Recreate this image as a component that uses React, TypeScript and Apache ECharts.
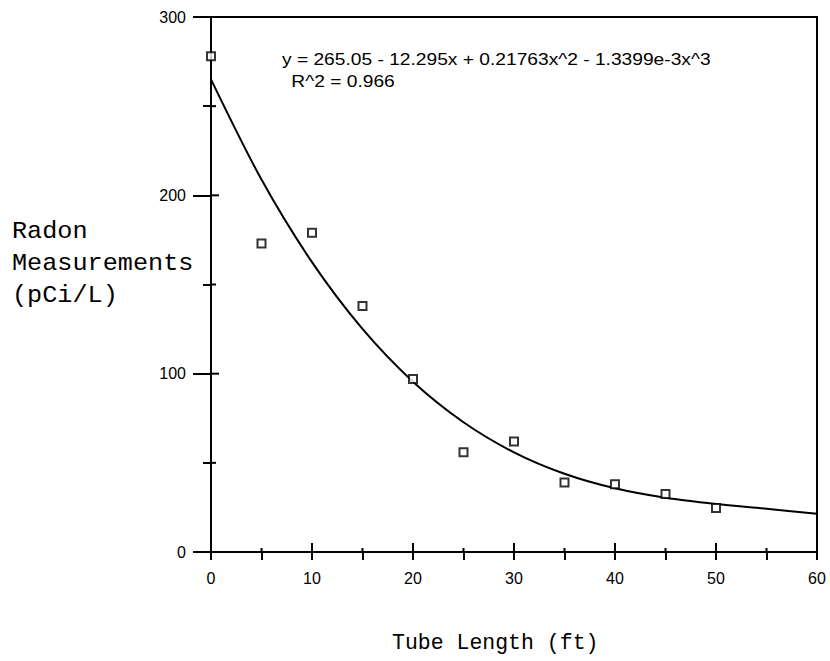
import React, { useEffect, useRef } from "react";
import * as echarts from "echarts";

const tubeLength = [0, 5, 10, 15, 20, 25, 30, 35, 40, 45, 50];
const radon = [278, 173, 179, 138, 97, 56, 62, 39, 38, 32.5, 24.7];

const fitX = [0, 5, 10, 15, 20, 25, 30, 35, 40, 45, 50, 55, 60];
const fitY = [265.05, 208.85, 162.52, 125.07, 95.48, 72.76, 55.89, 43.87, 35.7, 30.38, 26.89, 24.23, 21.4];

const xRange = { min: 0, max: 60, interval: 10 };
const yRange = { min: 0, max: 300, interval: 100 };

const xMajorTicks = [0, 10, 20, 30, 40, 50, 60];
const xMinorTicks = [5, 15, 25, 35, 45, 55];
const yMajorTicks = [0, 100, 200, 300];
const yMinorTicks = [50, 150, 250];

const equationLines = [
  "y = 265.05 - 12.295x + 0.21763x^2 - 1.3399e-3x^3",
  " R^2 = 0.966",
];
const yTitleLines = ["Radon", "Measurements", "(pCi/L)"];
const xTitle = "Tube Length (ft)";

export default function App() {
  const ref = useRef<HTMLDivElement>(null);
  useEffect(() => {
    if (!ref.current) return;
    const chart = echarts.init(ref.current, null, { renderer: "svg" });
    const sans = "'Liberation Sans', Arial, sans-serif";
    const mono = "'Liberation Mono', 'Courier New', monospace";
    const lineStyle = { color: "#000", width: 2 };

    const textGraphics: any[] = [
      ...equationLines.map((t, i) => ({
        type: "text",
        x: i === 0 ? 282 : 286,
        y: 52 + i * 22,
        scaleX: 1.2,
        style: { text: t, fontFamily: sans, fontSize: 16, fill: "#000" },
      })),
      ...yTitleLines.map((t, i) => ({
        type: "text",
        x: 12,
        y: 220 + i * 32,
        scaleX: 1.05,
        style: { text: t, fontFamily: mono, fontSize: 24, fill: "#000" },
      })),
      {
        type: "text",
        x: 392,
        y: 632,
        style: { text: xTitle, fontFamily: mono, fontSize: 21.5, fill: "#000" },
      },
    ];

    chart.setOption({
      animation: false,
      backgroundColor: "#fff",
      grid: {
        left: 211,
        right: 13,
        top: 17,
        bottom: 109,
        show: true,
        borderColor: "#000",
        borderWidth: 2,
        backgroundColor: "transparent",
      },
      xAxis: {
        type: "value",
        min: xRange.min,
        max: xRange.max,
        interval: xRange.interval,
        axisLine: { show: true, onZero: false, lineStyle },
        splitLine: { show: false },
        axisTick: { show: true, inside: false, length: 8, lineStyle },
        minorTick: { show: true, splitNumber: 2, length: 8, lineStyle },
        axisLabel: { show: true, margin: 18, fontFamily: sans, fontSize: 16, color: "#000" },
      },
      yAxis: {
        type: "value",
        min: yRange.min,
        max: yRange.max,
        interval: yRange.interval,
        axisLine: { show: true, onZero: false, lineStyle },
        splitLine: { show: false },
        axisTick: { show: true, inside: false, length: 18, lineStyle },
        minorTick: { show: true, splitNumber: 2, length: 8, lineStyle },
        axisLabel: { show: true, margin: 25, fontFamily: sans, fontSize: 16, color: "#000" },
      },
      series: [
        {
          type: "line",
          data: fitX.map((x, i) => [x, fitY[i]]),
          smooth: 0.3,
          showSymbol: false,
          symbol: "none",
          lineStyle: { color: "#000", width: 2 },
          z: 3,
        },
        {
          type: "scatter",
          data: tubeLength.map((x, i) => [x, radon[i]]),
          symbol: "rect",
          symbolSize: 8,
          itemStyle: { color: "#fff", borderColor: "#000", borderWidth: 2 },
          clip: false,
          z: 4,
        },
      ],
      graphic: textGraphics,
    });

    // inside halves of the crossing ticks, placed through the chart's own scales
    const tickLine = (p1: number[], p2: number[]) => ({
      type: "line",
      z: 5,
      silent: true,
      shape: { x1: p1[0], y1: p1[1], x2: p2[0], y2: p2[1] },
      style: { stroke: "#000", lineWidth: 2 },
    });
    const toPx = (x: number, y: number) =>
      chart.convertToPixel({ gridIndex: 0 }, [x, y]) as number[];
    const tickGraphics: any[] = [];
    xMajorTicks.forEach((v) => {
      const p = toPx(v, yRange.min);
      tickGraphics.push(tickLine(p, [p[0], p[1] - 9]));
    });
    xMinorTicks.forEach((v) => {
      const p = toPx(v, yRange.min);
      tickGraphics.push(tickLine(p, [p[0], p[1] - 4]));
    });
    yMajorTicks.forEach((v) => {
      const p = toPx(xRange.min, v);
      tickGraphics.push(tickLine(p, [p[0] + 8, p[1]]));
    });
    yMinorTicks.forEach((v) => {
      const p = toPx(xRange.min, v);
      tickGraphics.push(tickLine(p, [p[0] + 5, p[1]]));
    });
    chart.setOption({ graphic: [...textGraphics, ...tickGraphics] });

    return () => chart.dispose();
  }, []);
  return (
    <div
      ref={ref}
      style={{ position: "fixed", left: 0, top: 0, width: 830, height: 661 }}
    />
  );
}
